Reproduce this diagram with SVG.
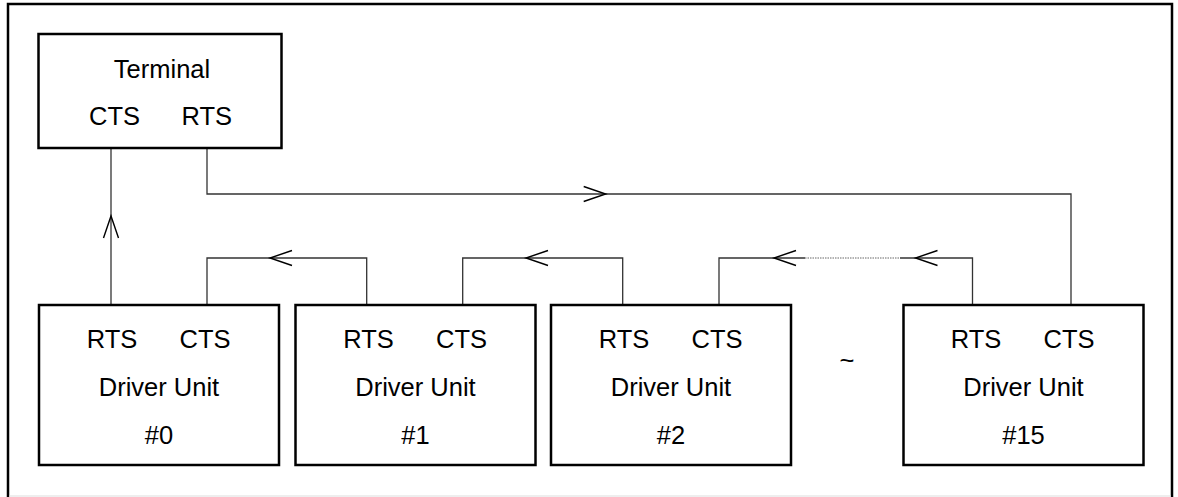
<svg xmlns="http://www.w3.org/2000/svg" width="1178" height="497" viewBox="0 0 1178 497">
<style>
.box{fill:#fff;stroke:#000;stroke-width:2.5}
.t{font-family:"Liberation Sans",Arial,sans-serif;font-size:25.5px;fill:#000;text-anchor:middle}
.w{fill:none;stroke:#333;stroke-width:1.3}
.ah{fill:none;stroke:#000;stroke-width:1.4}
.dot{fill:none;stroke:#666;stroke-width:1;stroke-dasharray:1.5 1}
</style>
<defs>
<path id="arr" d="M22,-7.5 L0,0 L22,7.5"/>
</defs>
<rect width="1178" height="497" fill="#fff"/>
<g id="frame">
<path d="M8 497 V4 H1172 V497" fill="none" stroke="#000" stroke-width="2.5"/>
<line x1="9" y1="496" x2="1171" y2="496" stroke="#ddd" stroke-width="1"/>
</g>
<g id="connectors">
<path class="w" d="M111 305 V148"/>
<path class="w" d="M207 148 V194 H1071 V305"/>
<path class="w" d="M207 305 V258 H366.7 V305"/>
<path class="w" d="M462.7 305 V258 H622.7 V305"/>
<path class="w" d="M719 305 V258 H805"/>
<path class="dot" d="M805 258 H900"/>
<path class="w" d="M900 258 H972.5 V305"/>
<use href="#arr" class="ah" transform="translate(111,216) rotate(90)"/>
<use href="#arr" class="ah" transform="translate(605.7,194) rotate(180)"/>
<use href="#arr" class="ah" transform="translate(270,258)"/>
<use href="#arr" class="ah" transform="translate(526,258)"/>
<use href="#arr" class="ah" transform="translate(774,258)"/>
<use href="#arr" class="ah" transform="translate(915.5,258)"/>
</g>
<g id="terminal">
<rect class="box" x="38.5" y="34" width="243" height="114"/>
<text class="t" x="162" y="78">Terminal</text>
<text class="t" x="114.5" y="125">CTS</text>
<text class="t" x="206.7" y="125">RTS</text>
</g>
<g id="driver0">
<rect class="box" x="39" y="305" width="240" height="160"/>
<text class="t" x="112" y="347.7">RTS</text>
<text class="t" x="205" y="347.7">CTS</text>
<text class="t" x="159" y="395.7">Driver Unit</text>
<text class="t" x="159" y="444">#0</text>
</g>
<g id="driver1">
<rect class="box" x="295.5" y="305" width="240" height="160"/>
<text class="t" x="368.5" y="347.7">RTS</text>
<text class="t" x="461.5" y="347.7">CTS</text>
<text class="t" x="415.5" y="395.7">Driver Unit</text>
<text class="t" x="415.5" y="444">#1</text>
</g>
<g id="driver2">
<rect class="box" x="551" y="305" width="240" height="160"/>
<text class="t" x="624" y="347.7">RTS</text>
<text class="t" x="717" y="347.7">CTS</text>
<text class="t" x="671" y="395.7">Driver Unit</text>
<text class="t" x="671" y="444">#2</text>
</g>
<text class="t" x="847" y="369">~</text>
<g id="driver15">
<rect class="box" x="903.5" y="305" width="240" height="160"/>
<text class="t" x="976" y="347.7">RTS</text>
<text class="t" x="1069" y="347.7">CTS</text>
<text class="t" x="1023.5" y="395.7">Driver Unit</text>
<text class="t" x="1023.5" y="444">#15</text>
</g>
</svg>
